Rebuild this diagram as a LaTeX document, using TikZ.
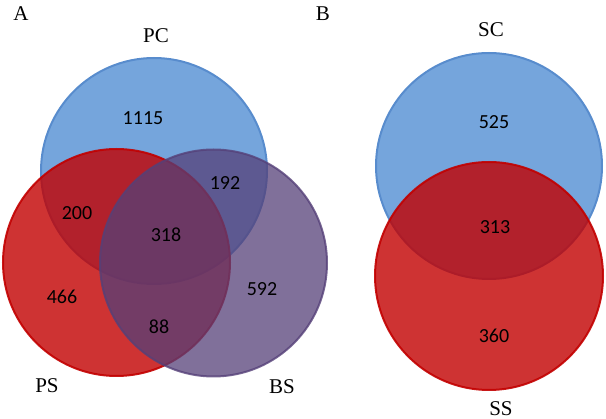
\documentclass[tikz,border=0pt]{standalone}
\usepackage{fontspec}
\setmainfont{Liberation Serif}
\newfontfamily\numfont{Carlito}
\usetikzlibrary{positioning}
\definecolor{pcblue}{RGB}{117,165,220}
\definecolor{pcedge}{RGB}{88,140,205}
\definecolor{psred}{RGB}{194,0,0}
\definecolor{bspurple}{RGB}{85,64,120}

\begin{document}
\begin{tikzpicture}[x=1pt,y=-1pt,
  setlabel/.style={font=\fontsize{21}{24}\selectfont,inner sep=1pt},
  count/.style={font=\numfont\fontsize{20}{24}\selectfont},
  bluecirc/.style={fill=pcblue,draw=pcedge,line width=2pt},
  redcirc/.style={fill=psred,fill opacity=.8,draw=psred,draw opacity=.9,line width=2pt},
  purplecirc/.style={fill=bspurple,fill opacity=.75,draw=bspurple,draw opacity=.8,line width=2pt}]
\useasboundingbox (0,0) rectangle (606,419);
% panel A
\draw[bluecirc] (154,171) circle (113pt);
\draw[redcirc] (116.5,262.5) circle (113.5pt);
\draw[purplecirc] (213.5,263) circle (113.5pt);
\node[setlabel] (lblA) at (21,14) {A};
\node[setlabel] (pc) at (156,36) {PC};
\node[setlabel] (ps) at (47,386) {PS};
\node[setlabel] (bs) at (282,387) {BS};
\node[count] (nPC) at (143,118) {1115};
\node[count] (nPCBS) at (225,183) {192};
\node[count] (nPCPS) at (77,213) {200};
\node[count] (nAll) at (166,235) {318};
\node[count] (nPS) at (62,297) {466};
\node[count] (nBS) at (262,289) {592};
\node[count] (nPSBS) at (159,327) {88};
% panel B
\draw[bluecirc] (489,166) circle (113pt);
\draw[redcirc] (489,276) circle (114pt);
\node[setlabel] (lblB) at (323,14) {B};
\node[setlabel] (sc) at (491,30) {SC};
\node[setlabel] (ss) at (501,409) {SS};
\node[count] (nSC) at (494,122) {525};
\node[count] (nSCSS) at (495,227) {313};
\node[count] (nSS) at (494,336) {360};
\end{tikzpicture}
\end{document}
